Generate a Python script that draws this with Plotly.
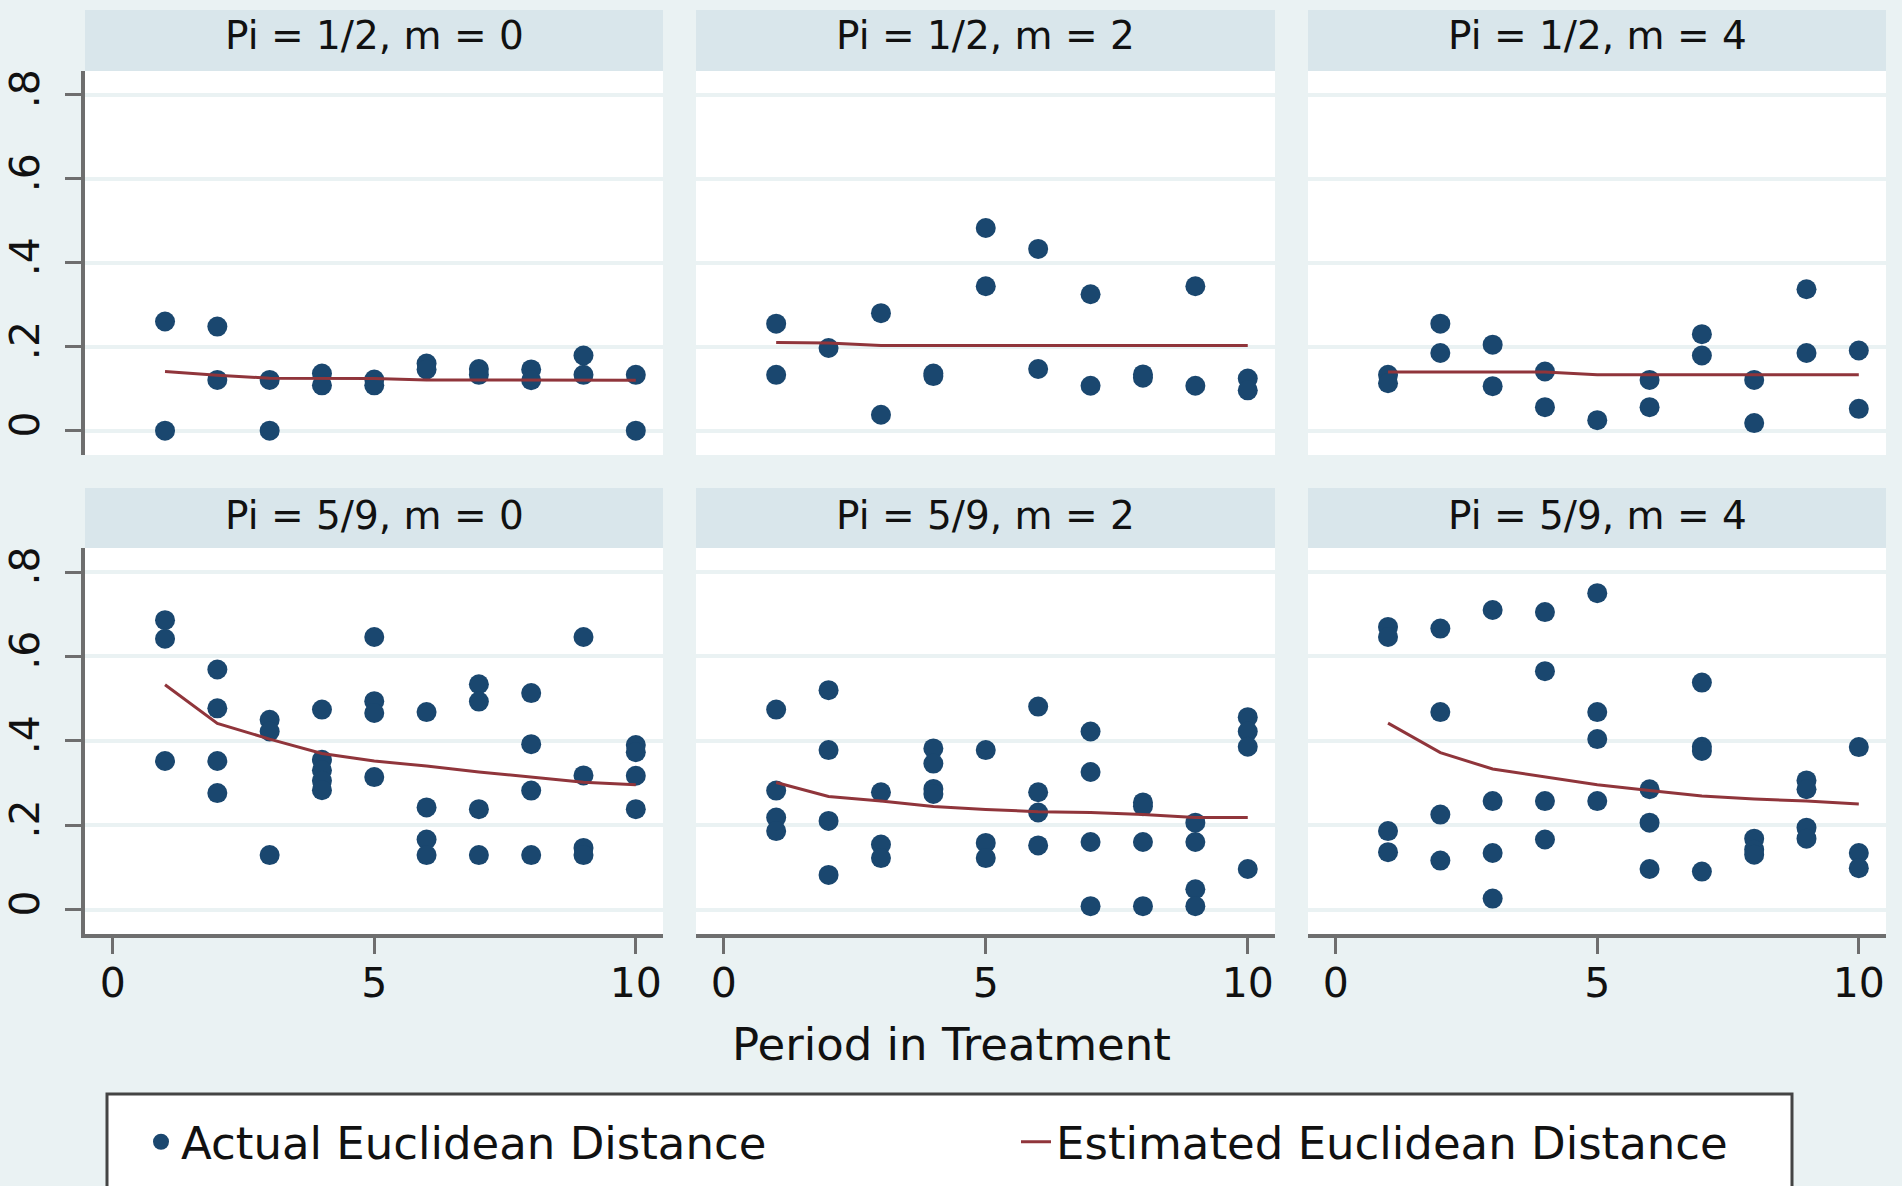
import plotly.graph_objects as go

# ---------------- data ----------------
periods = [1, 2, 3, 4, 5, 6, 7, 8, 9, 10]

panel_titles = [
    "Pi = 1/2, m = 0", "Pi = 1/2, m = 2", "Pi = 1/2, m = 4",
    "Pi = 5/9, m = 0", "Pi = 5/9, m = 2", "Pi = 5/9, m = 4",
]

# actual Euclidean distances: one list of observations per period (1..10)
actual_p1 = [[0.26, 0.0], [0.248, 0.121], [0.121, 0.0], [0.136, 0.108], [0.122, 0.108],
             [0.16, 0.146], [0.147, 0.133], [0.146, 0.12], [0.179, 0.133], [0.133, 0.0]]
actual_p2 = [[0.255, 0.133], [0.197], [0.28, 0.038], [0.136, 0.130], [0.483, 0.344],
             [0.433, 0.147], [0.325, 0.107], [0.134, 0.126], [0.344, 0.107], [0.124, 0.096]]
actual_p3 = [[0.133, 0.113], [0.255, 0.185], [0.205, 0.106], [0.141, 0.056], [0.025],
             [0.121, 0.056], [0.230, 0.179], [0.121, 0.018], [0.337, 0.185], [0.191, 0.052]]
actual_p4 = [[0.686, 0.642, 0.352], [0.569, 0.477, 0.352, 0.276], [0.450, 0.422, 0.129],
             [0.474, 0.355, 0.330, 0.305, 0.283], [0.646, 0.494, 0.466, 0.314],
             [0.468, 0.242, 0.166, 0.129], [0.534, 0.493, 0.238, 0.129],
             [0.513, 0.392, 0.282, 0.129], [0.646, 0.318, 0.146, 0.129],
             [0.390, 0.373, 0.317, 0.238]]
actual_p5 = [[0.474, 0.282, 0.218, 0.186], [0.520, 0.378, 0.210, 0.082], [0.278, 0.154, 0.122],
             [0.382, 0.346, 0.286, 0.274], [0.378, 0.158, 0.122], [0.481, 0.278, 0.230, 0.152],
             [0.422, 0.326, 0.160, 0.008], [0.254, 0.245, 0.160, 0.008],
             [0.206, 0.160, 0.048, 0.008], [0.456, 0.422, 0.386, 0.096]]
actual_p6 = [[0.670, 0.646, 0.186, 0.136], [0.666, 0.468, 0.225, 0.116],
             [0.710, 0.257, 0.134, 0.026], [0.705, 0.565, 0.257, 0.166],
             [0.750, 0.468, 0.404, 0.257], [0.285, 0.206, 0.096],
             [0.538, 0.386, 0.376, 0.090], [0.168, 0.142, 0.130],
             [0.306, 0.285, 0.194, 0.168], [0.385, 0.134, 0.098]]

# estimated Euclidean distance per period
est_p1 = [0.141, 0.132, 0.125, 0.125, 0.124, 0.121, 0.121, 0.120, 0.120, 0.120]
est_p2 = [0.210, 0.209, 0.203, 0.203, 0.203, 0.203, 0.203, 0.203, 0.203, 0.203]
est_p3 = [0.140, 0.140, 0.140, 0.140, 0.133, 0.133, 0.133, 0.133, 0.133, 0.133]
est_p4 = [0.533, 0.441, 0.404, 0.370, 0.352, 0.340, 0.326, 0.314, 0.302, 0.296]
est_p5 = [0.301, 0.268, 0.257, 0.244, 0.237, 0.232, 0.230, 0.225, 0.218, 0.218]
est_p6 = [0.442, 0.372, 0.333, 0.314, 0.296, 0.282, 0.269, 0.262, 0.257, 0.250]

y_tickvals = [0, 0.2, 0.4, 0.6, 0.8]
y_ticktext = ["0", ".2", ".4", ".6", ".8"]
x_tickvals = [0, 5, 10]
x_ticktext = ["0", "5", "10"]

x_title = "Period in Treatment"
legend_actual = "Actual Euclidean Distance"
legend_est = "Estimated Euclidean Distance"

actual_all = [actual_p1, actual_p2, actual_p3, actual_p4, actual_p5, actual_p6]
est_all = [est_p1, est_p2, est_p3, est_p4, est_p5, est_p6]

# ---------------- styling / layout ----------------
W, H = 1902, 1186
FONT = "DejaVu Sans"
NAVY = "#1a476f"
MAROON = "#90353b"
BG = "#eaf2f3"
STRIP = "#d9e6eb"
GRID = "#eaf2f3"
AXC = "#6e6e6e"


def fx(p):
    return p / W


def fy(p):
    return 1 - p / H


col_px = [(85, 663), (696, 1275), (1308, 1886)]
row_plot_px = [(71, 455), (548, 934)]
row_strip_px = [(10, 71), (488, 548)]
row_title_center_px = [35, 515]

fig = go.Figure()
layout = dict(
    width=W, height=H,
    margin=dict(l=0, r=0, t=0, b=0, autoexpand=False),
    paper_bgcolor=BG, plot_bgcolor="white",
    font=dict(family=FONT, color="#111111"),
    showlegend=True,
)
shapes = []
annotations = []

for i in range(6):
    r, c = divmod(i, 3)
    k = i + 1
    xs, ys = [], []
    for p, vals in zip(periods, actual_all[i]):
        for v in vals:
            xs.append(p)
            ys.append(v)
    xname = "x" if k == 1 else f"x{k}"
    yname = "y" if k == 1 else f"y{k}"
    fig.add_trace(go.Scatter(
        x=xs, y=ys, mode="markers", name=legend_actual, legendgroup="act",
        showlegend=(k == 1), marker=dict(color=NAVY, size=20),
        xaxis=xname, yaxis=yname, hoverinfo="x+y"))
    fig.add_trace(go.Scatter(
        x=periods, y=est_all[i], mode="lines", name=legend_est, legendgroup="est",
        showlegend=(k == 1), line=dict(color=MAROON, width=3),
        xaxis=xname, yaxis=yname, hoverinfo="x+y"))

    x0, x1 = col_px[c]
    y0, y1 = row_plot_px[r]
    xa = dict(domain=[fx(x0), fx(x1)], anchor=yname, range=[-0.53, 10.52],
              showgrid=False, zeroline=False)
    if r == 1:
        xa.update(showline=True, linecolor=AXC, linewidth=4, ticks="outside",
                  ticklen=16, tickwidth=3, tickcolor=AXC, tickvals=x_tickvals,
                  ticktext=x_ticktext, tickfont=dict(size=41, family=FONT, color="#111111"),
                  ticklabelstandoff=-6)
    else:
        xa.update(showline=False, ticks="", showticklabels=False)
    ya = dict(domain=[fy(y1), fy(y0)], anchor=xname, range=[-0.058, 0.857],
              showgrid=True, gridcolor=GRID, gridwidth=4, zeroline=False,
              tickvals=y_tickvals)
    if c == 0:
        ya.update(showline=True, linecolor=AXC, linewidth=4, ticks="outside",
                  ticklen=16, tickwidth=3, tickcolor=AXC, ticktext=y_ticktext,
                  tickangle=-90, tickfont=dict(size=41, family=FONT, color="#111111"),
                  ticklabelstandoff=10)
    else:
        ya.update(showline=False, ticks="", showticklabels=False)
    layout["xaxis" if k == 1 else f"xaxis{k}"] = xa
    layout["yaxis" if k == 1 else f"yaxis{k}"] = ya

    s0, s1 = row_strip_px[r]
    shapes.append(dict(type="rect", xref="paper", yref="paper",
                       x0=fx(x0), x1=fx(x1), y0=fy(s1), y1=fy(s0),
                       fillcolor=STRIP, line=dict(width=0), layer="below"))
    annotations.append(dict(text=panel_titles[i], xref="paper", yref="paper",
                            x=fx((x0 + x1) / 2), y=fy(row_title_center_px[r]),
                            xanchor="center", yanchor="middle", showarrow=False,
                            font=dict(size=39, family=FONT, color="#111111")))

annotations.append(dict(text=x_title, xref="paper", yref="paper",
                        x=0.5, y=fy(1044), xanchor="center", yanchor="middle",
                        showarrow=False, font=dict(size=45, family=FONT, color="#111111")))

# legend frame (extends past the bottom edge, as in the original)
shapes.append(dict(type="rect", xref="paper", yref="paper",
                   x0=fx(107), x1=fx(1792), y0=fy(1200), y1=fy(1094),
                   fillcolor="white", line=dict(color="#444444", width=3), layer="below"))

layout["shapes"] = shapes
layout["annotations"] = annotations
layout["legend"] = dict(
    orientation="h", x=fx(141), xanchor="left", y=fy(1106), yanchor="top",
    bgcolor="rgba(0,0,0,0)", borderwidth=0,
    font=dict(size=45, family=FONT, color="#111111"),
    entrywidth=830, entrywidthmode="pixels", itemsizing="trace",
    traceorder="normal",
)
fig.update_layout(**layout)
fig.write_html("out.html")
